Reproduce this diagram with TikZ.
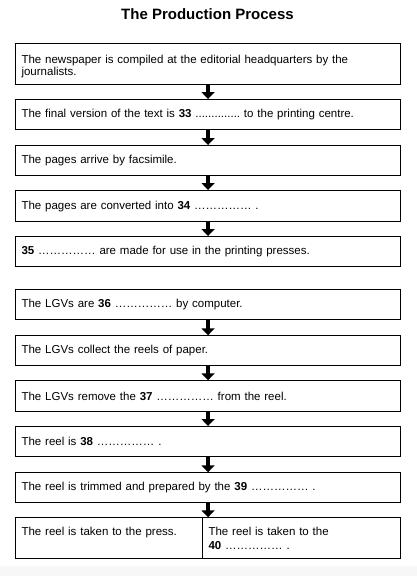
\documentclass[tikz,border=0pt]{standalone}
\usepackage{fontspec}
\setmainfont{Liberation Sans}
\usetikzlibrary{arrows.meta}
\frenchspacing
\begin{document}
\begin{tikzpicture}[x=1pt,y=-1pt,
  every node/.style={font=\fontsize{11.5}{13}\selectfont},
  stepbox/.style={draw, line width=1.1pt, anchor=north west, inner xsep=5.7pt, inner ysep=0pt,
    text width=373pt, align=left},
  cellbox/.style={draw, line width=1.1pt, anchor=north west, inner xsep=5.7pt, inner ysep=0pt,
    align=left},
  flowarrow/.style={line width=4pt, -{Triangle[width=13pt,length=7pt]}}]
\useasboundingbox (0,0) rectangle (417,576);
\fill[gray!6] (0,566) rectangle (417,576);
\node[font=\fontsize{15}{17}\bfseries] (title) at (207.5,14) {The Production Process};
\node[stepbox, minimum height=41pt, font=\fontsize{11.5}{12}\selectfont] (b1) at (15.3,43.3) {\rule{0pt}{12pt}The newspaper is compiled at the editorial headquarters by the\\journalists.};
\node[stepbox, minimum height=30.3pt] (b2) at (15.3,99) {The final version of the text is \textbf{33} .............. to the printing centre.};
\node[stepbox, minimum height=30.3pt] (b3) at (15.3,145) {The pages arrive by facsimile.};
\node[stepbox, minimum height=31pt] (b4) at (15.3,190) {The pages are converted into \textbf{34} …………… .};
\node[stepbox, minimum height=30pt] (b5) at (15.3,236) {\textbf{35} …………… are made for use in the printing presses.};
\node[stepbox, minimum height=30pt] (b6) at (15.3,289.3) {The LGVs are \textbf{36} …………… by computer.};
\node[stepbox, minimum height=30pt] (b7) at (15.3,335.3) {The LGVs collect the reels of paper.};
\node[stepbox, minimum height=31pt] (b8) at (15.3,380.3) {The LGVs remove the \textbf{37} …………… from the reel.};
\node[stepbox, minimum height=30.3pt] (b9) at (15.3,426) {The reel is \textbf{38} …………… .};
\node[stepbox, minimum height=30pt] (b10) at (15.3,472.3) {The reel is trimmed and prepared by the \textbf{39} …………… .};
\node[cellbox, text width=175.6pt, minimum height=41pt, font=\fontsize{11.5}{14.5}\selectfont] (b11l) at (15.3,517.3) {The reel is taken to the press.\\\mbox{}};
\node[cellbox, text width=186pt, minimum height=41pt, font=\fontsize{11.5}{14.5}\selectfont] (b11r) at (202.3,517.3) {The reel is taken to the\\\textbf{40} …………… .};
\coordinate (a10end) at (b10.south |- b11r.north);
\draw[flowarrow] (b1) -- (b2);
\draw[flowarrow] (b2) -- (b3);
\draw[flowarrow] (b3) -- (b4);
\draw[flowarrow] (b4) -- (b5);
\draw[flowarrow] (b6) -- (b7);
\draw[flowarrow] (b7) -- (b8);
\draw[flowarrow] (b8) -- (b9);
\draw[flowarrow] (b9) -- (b10);
\draw[flowarrow] (b10.south) -- (a10end);
\end{tikzpicture}
\end{document}
